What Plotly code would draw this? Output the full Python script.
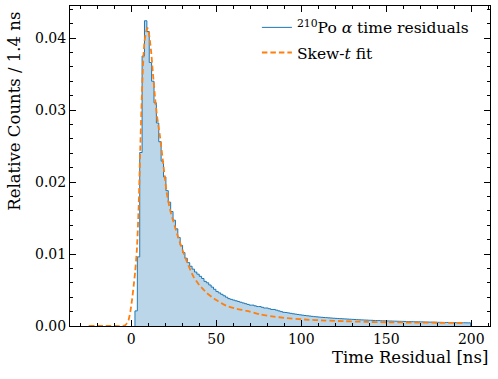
import numpy as np
import plotly.graph_objects as go

# histogram: 1.4 ns bins starting at 2.2 ns
bin_start = 2.2
bin_width = 1.4
hist_values = [
    0.0021, 0.0096, 0.0241, 0.0375, 0.0424, 0.0409, 0.0366, 0.0340, 0.0310, 0.0282,
    0.0256, 0.0229, 0.0207, 0.0188, 0.0172, 0.0159, 0.0147, 0.0135, 0.0123, 0.0112,
    0.0102, 0.0094, 0.0088, 0.0083, 0.0079, 0.0075, 0.0072, 0.0069, 0.0066, 0.0062,
    0.0060, 0.0057, 0.0054, 0.0051, 0.0048, 0.0046, 0.0044, 0.0042, 0.0040, 0.0038,
    0.0037, 0.0036, 0.0035, 0.0034, 0.0033, 0.0032, 0.0031, 0.0030, 0.0029, 0.0029,
    0.0028, 0.0027, 0.0027, 0.0026, 0.0025, 0.0025, 0.0024, 0.0023, 0.0023, 0.0022,
    0.0021, 0.0020, 0.0019, 0.00188, 0.00182, 0.00176, 0.0017, 0.00165, 0.0016, 0.00155,
    0.0015, 0.00146, 0.00142, 0.00138, 0.00134, 0.0013, 0.00127, 0.00124, 0.00121, 0.00118,
    0.00116, 0.00113, 0.00111, 0.00108, 0.00106, 0.00104, 0.00102, 0.0010, 0.00098, 0.00096,
    0.00094, 0.00092, 0.0009, 0.00088, 0.00086, 0.00085, 0.00083, 0.00082, 0.0008, 0.00079,
    0.00077, 0.00076, 0.00075, 0.00073, 0.00072, 0.00071, 0.0007, 0.00069, 0.00068, 0.00067,
    0.00066, 0.00065, 0.00064, 0.00063, 0.00062, 0.00061, 0.0006, 0.00059, 0.00058, 0.00058,
    0.00057, 0.00056, 0.00055, 0.00054, 0.00054, 0.00053, 0.00052, 0.00051, 0.00051, 0.0005,
    0.00049, 0.00049, 0.00048, 0.00048, 0.00047, 0.00046, 0.00046, 0.00045, 0.00045, 0.00044,
    0.00044,
]

# skew-t fit curve
fit_t = [
    -25, -10, -5, -3.5, -2.5, -1.6, -0.5, 0.4, 1.4, 2.3, 3.3, 4.3, 5.3, 6.0, 6.9, 7.8,
    8.8, 9.6, 10.5, 11.6, 12.8, 14.1, 15.0, 16.0, 17.0, 18.5, 20.9, 22.8, 24.8, 27.5,
    30.7, 33.5, 36.5, 40, 44.4, 50, 56, 62, 68, 76, 84, 90, 102, 114, 125, 137, 150,
    165, 180, 195,
]
fit_values = [
    0, 0, 0, 0.0001, 0.0004, 0.0008, 0.0020, 0.0035, 0.0055, 0.0075, 0.0105, 0.0160,
    0.0245, 0.0300, 0.0361, 0.0395, 0.0409, 0.0414, 0.0405, 0.0384, 0.0350, 0.0315,
    0.0295, 0.0278, 0.0262, 0.0232, 0.0185, 0.0162, 0.0145, 0.0124, 0.0102, 0.0085,
    0.0069, 0.0057, 0.0046, 0.0036, 0.0028, 0.0024, 0.0021, 0.0016, 0.0013, 0.00114,
    0.0009, 0.00076, 0.00067, 0.00058, 0.00052, 0.00048, 0.00045, 0.00042,
]

edges = bin_start + bin_width * np.arange(len(hist_values) + 1)
step_x = [edges[0]] + list(edges) + [edges[-1]]
step_y = [0] + hist_values + [hist_values[-1], 0]

FONT = "DejaVu Serif"

fig = go.Figure()
fig.add_trace(go.Scatter(
    x=step_x, y=step_y, mode="lines", line_shape="hv",
    line=dict(width=0), fill="tozeroy", fillcolor="rgba(31,119,180,0.3)",
    showlegend=False, hoverinfo="skip",
))
fig.add_trace(go.Scatter(
    x=step_x, y=step_y, mode="lines", line_shape="hv",
    line=dict(color="#1f77b4", width=1),
    name="<sup>210</sup>Po <i>α</i> time residuals", legendgroup="hist",
))
fig.add_trace(go.Scatter(
    x=fit_t, y=fit_values, mode="lines", line_shape="spline",
    line=dict(color="#ff7f0e", width=1.8, dash="5.5px,3px", smoothing=0.6),
    name="Skew-<i>t</i> fit", legendgroup="fit",
))

axis_common = dict(
    showgrid=False, zeroline=False, showline=True, linecolor="black", linewidth=1,
    mirror="allticks", ticks="inside", ticklen=6, tickwidth=1, tickcolor="black",
    tickfont=dict(family=FONT, size=14, color="black"),
)
fig.update_xaxes(
    range=[-36, 211], dtick=50, tick0=0,
    minor=dict(ticks="inside", ticklen=3, dtick=10, tickcolor="black", showgrid=False),
    **axis_common,
)
fig.update_yaxes(
    range=[0, 0.04445], dtick=0.01, tickformat=".2f",
    minor=dict(ticks="inside", ticklen=3, dtick=0.002, tickcolor="black", showgrid=False),
    **axis_common,
)

fig.add_annotation(
    text="Time Residual [ns]", xref="paper", yref="paper", x=1, y=-0.098,
    xanchor="right", yanchor="middle", showarrow=False,
    font=dict(family=FONT, size=16.5, color="black"),
)
fig.add_annotation(
    text="Relative Counts / 1.4 ns", xref="paper", yref="paper", x=-0.131, y=0.99,
    xanchor="center", yanchor="top", textangle=-90, showarrow=False,
    font=dict(family=FONT, size=16.5, color="black"),
)

fig.update_layout(
    width=498, height=379,
    margin=dict(l=70, r=8, t=6, b=52.5),
    plot_bgcolor="white", paper_bgcolor="white",
    font=dict(family=FONT, size=14, color="black"),
    legend=dict(
        x=0.445, y=0.985, xanchor="left", yanchor="top",
        bgcolor="rgba(0,0,0,0)", font=dict(family=FONT, size=15.5),
        traceorder="grouped", tracegroupgap=2,
    ),
)

fig.write_html(
    "out.html",
    config={"displayModeBar": False},
    post_script="document.body.style.margin='0px';",
)
